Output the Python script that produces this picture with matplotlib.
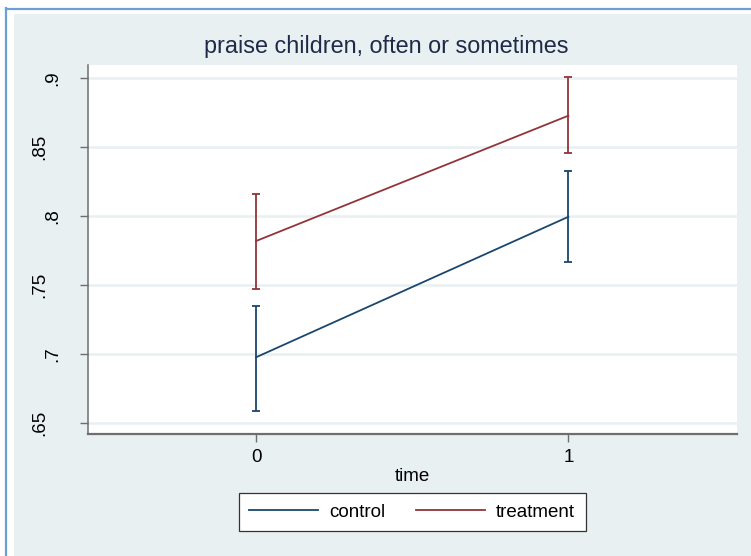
import numpy as np
import matplotlib.pyplot as plt
from matplotlib.transforms import ScaledTranslation
from matplotlib.patches import Rectangle
from matplotlib.lines import Line2D

plt.rcParams['font.family'] = ['Liberation Sans', 'DejaVu Sans']

time = [0, 1]
control = [0.6975, 0.7995]
control_lo = [0.6587, 0.7664]
control_hi = [0.7350, 0.8329]
treatment = [0.7819, 0.8729]
treatment_lo = [0.7473, 0.8460]
treatment_hi = [0.8158, 0.9012]
yticks = [0.65, 0.7, 0.75, 0.8, 0.85, 0.9]
ylabels = ['.65', '.7', '.75', '.8', '.85', '.9']

navy = '#1a476f'
maroon = '#90353b'
bg = '#e8f0f2'

W, H = 751, 556
fig = plt.figure(figsize=(W / 100, H / 100), dpi=100)
fig.patch.set_facecolor('white')

# graph region background and the blue frame
fig.add_artist(Rectangle((14 / W, 0), 1, (H - 14) / H, transform=fig.transFigure,
                         facecolor=bg, edgecolor='none', zorder=0))
fig.add_artist(Line2D([6.5 / W, 6.5 / W], [0, (H - 8) / H], transform=fig.transFigure,
                      color='#6a9fd8', lw=1.6))
fig.add_artist(Line2D([6 / W, 1], [(H - 8.5) / H, (H - 8.5) / H], transform=fig.transFigure,
                      color='#6a9fd8', lw=1.6))

ax = fig.add_axes([88 / W, (H - 434) / H, (737 - 88) / W, (434 - 65) / H])
ax.set_facecolor('white')

ax.set_xlim(-0.538, 1.54)
ax.set_ylim(0.6418, 0.9097)

for y in yticks:
    ax.axhline(y, color=bg, lw=1.8, zorder=1)

ax.plot(time, control, color=navy, lw=1.3, zorder=3, label='control')
ax.plot(time, treatment, color=maroon, lw=1.3, zorder=3, label='treatment')
ax.errorbar(time, control, yerr=[np.subtract(control, control_lo), np.subtract(control_hi, control)],
            fmt='none', ecolor=navy, elinewidth=1.3, capsize=2.6, capthick=1.3, zorder=3)
ax.errorbar(time, treatment, yerr=[np.subtract(treatment, treatment_lo), np.subtract(treatment_hi, treatment)],
            fmt='none', ecolor=maroon, elinewidth=1.3, capsize=2.6, capthick=1.3, zorder=3)

for s in ['top', 'right']:
    ax.spines[s].set_visible(False)
ax.spines['left'].set_color('#6e6e6e')
ax.spines['left'].set_linewidth(1.1)
ax.spines['bottom'].set_color('#6e6e6e')
ax.spines['bottom'].set_linewidth(1.6)

ax.set_xticks(time)
ax.set_xticklabels(['0', '1'], fontsize=13.5)
ax.set_yticks(yticks)
ax.set_yticklabels(ylabels, rotation=90, va='center', ha='right', fontsize=13.5)
ax.tick_params(axis='both', direction='out', length=6, width=1, color='#6e6e6e')
ax.tick_params(axis='y', pad=13)
ax.tick_params(axis='x', pad=5)

# Stata shifts the longer rotated labels further left
for lab in ax.get_yticklabels():
    if len(lab.get_text()) == 3:
        lab.set_transform(lab.get_transform() + ScaledTranslation(-13 / 100, 0, fig.dpi_scale_trans))

ax.set_xlabel('time', fontsize=13.5, labelpad=1)

fig.text(386 / W, (H - 47) / H, 'praise children, often or sometimes', ha='center', va='center',
         fontsize=16.8, color='#1e2a48')

leg = ax.legend(loc='center', bbox_to_anchor=(412 / W, (H - 512) / H), bbox_transform=fig.transFigure,
                ncol=2, fontsize=13.5, frameon=True, fancybox=False, edgecolor='#333333',
                framealpha=1, handlelength=3.7, columnspacing=1.6, handletextpad=0.6, borderpad=0.55)
leg.get_frame().set_linewidth(0.9)

fig.savefig('out.png', dpi=100)
